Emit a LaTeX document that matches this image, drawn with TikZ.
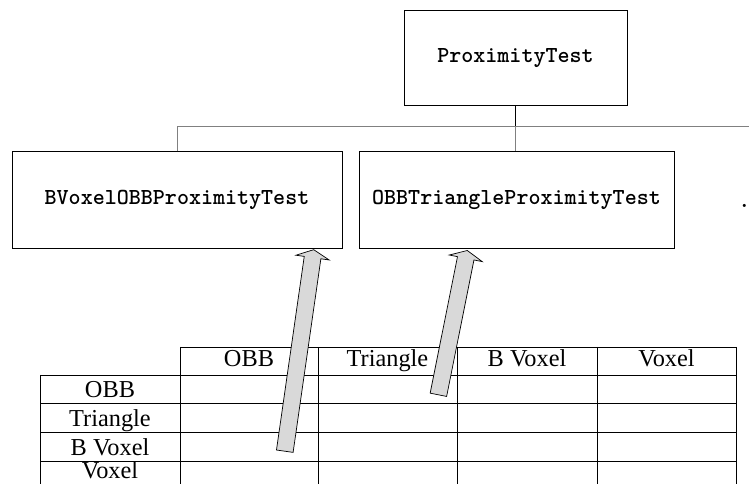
\documentclass[tikz,border=0pt]{standalone}
\usepackage{fontspec}
\setmainfont{Liberation Serif}
\usepackage{tikz}
\usetikzlibrary{calc}

% grey block arrow from a table cell up to a class box
\newcommand{\cellarrow}[2]{%
\coordinate (hb) at ($(#2)!0.2cm!(#1)$);
\draw[fill=gray!30,line width=0.5pt] ($(#1)!0.21cm!90:(#2)$) -- ($(hb)!0.21cm!90:(#2)$)
  -- ($(hb)!0.42cm!90:(#2)$) -- (#2) -- ($(hb)!0.42cm!-90:(#2)$)
  -- ($(hb)!0.21cm!-90:(#2)$) -- ($(#1)!0.21cm!-90:(#2)$) -- cycle;
}

\begin{document}
\begin{tikzpicture}[
classbox/.style={draw,line width=0.7pt,minimum height=2.4cm,inner sep=0pt,
  font=\ttfamily\bfseries\fontsize{16.3}{19}\selectfont},
link/.style={draw=black!50,line width=0.7pt},
cell/.style={anchor=base,inner sep=0pt,font=\fontsize{17.3}{20}\selectfont}]
\useasboundingbox (0,0) rectangle (18.725,12.1);

\node[classbox,minimum width=5.575cm,minimum height=2.35cm] (top) at (12.8875,10.65) {ProximityTest};
\node[classbox,minimum width=8.25cm] (bvox) at (4.425,7.1) {BVoxelOBBProximityTest};
\node[classbox,minimum width=7.875cm] (obbtri) at (12.9125,7.1) {OBBTriangleProximityTest};
\node[anchor=base west,inner sep=0pt,font=\ttfamily\bfseries\fontsize{16.3}{19}\selectfont] (more) at (18.45,6.9) {.};

\coordinate (bus) at (18.9,8.95);
\draw[line width=0.7pt] (top.south) -- (top.south |- bus);
\draw[link] (bvox.north) -- (bvox.north |- bus) -- (bus);
\draw[link] (top.south |- bus) -- (top.south |- obbtri.north);

% table
\draw[line width=0.7pt] (4.5,3.425) -- (18.4,3.425);
\foreach \y in {2.725,2.025,1.3,0.575}
  \draw[line width=0.7pt] (1,\y) -- (18.4,\y);
\draw[line width=0.7pt] (1,2.725) -- (1,-0.3);
\foreach \x in {4.5,7.95,11.425,14.925,18.4}
  \draw[line width=0.7pt] (\x,3.425) -- (\x,-0.3);

\foreach \x/\t/\n in {6.225/OBB/c1,9.6875/Triangle/c2,13.175/B Voxel/c3,16.6625/Voxel/c4}
  \node[cell] (\n) at (\x,2.925) {\t};
\foreach \y/\t/\n in {2.15/OBB/r1,1.425/Triangle/r2,0.7/B Voxel/r3,0.14/Voxel/r4}
  \node[cell] (\n) at (2.75,\y) {\t};

\coordinate (bvoxcell) at (7.12,0.82);
\coordinate (obbtricell) at (10.96,2.23);
\coordinate (bvoxin) at ([xshift=-0.72cm,yshift=-0.03cm]bvox.south east);
\coordinate (obbtriin) at ([xshift=-5.18cm,yshift=-0.05cm]obbtri.south east);
\cellarrow{bvoxcell}{bvoxin}
\cellarrow{obbtricell}{obbtriin}
\end{tikzpicture}
\end{document}
